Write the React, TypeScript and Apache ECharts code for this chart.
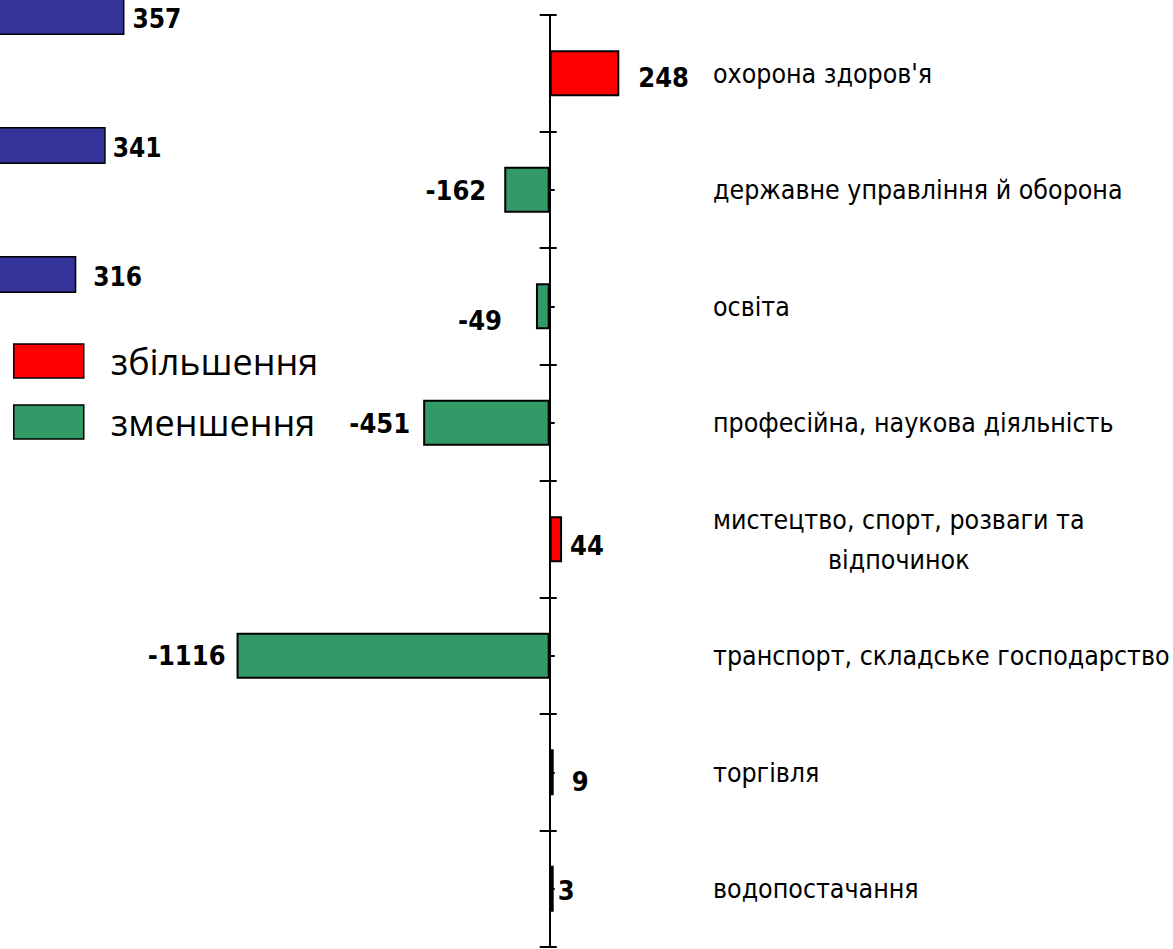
import React, { useEffect, useRef } from "react";
import * as echarts from "echarts";

// ---- data ----
const categories = [
  "охорона здоров'я",
  "державне управління й оборона",
  "освіта",
  "професійна, наукова діяльність",
  "мистецтво, спорт, розваги та\nвідпочинок",
  "транспорт, складське господарство",
  "торгівля",
  "водопостачання",
];
const changeValues = [248, -162, -49, -451, 44, -1116, 9, 3];
const seriesNames = ["збільшення", "зменшення"];

// partially visible neighbouring panel (its category names are cropped away)
const leftCategories = ["—", "— ", "—  "];
const leftValues = [357, 341, 316];

// ---- styling ----
const NARROW = "'Liberation Sans Narrow', 'Arial Narrow', 'DejaVu Sans Condensed', sans-serif";
const LEGEND_FONT = "'Open Sans', 'Noto Sans', sans-serif";
const CAT_SIZE = 26.5;
const VAL_SIZE = 27;

const rightLabelTweaks = [
  { distance: 19, dy: 4 },
  { distance: 18, dy: 1 },
  { distance: 34, dy: 14 },
  { distance: 13, dy: 1 },
  { distance: 8, dy: 6 },
  { distance: 11, dy: 0 },
  { distance: 18, dy: 9 },
  { distance: 4, dy: 2 },
];
const leftLabelTweaks = [
  { distance: 8, dy: 2 },
  { distance: 7, dy: 2 },
  { distance: 17, dy: 2 },
];

function measure(text: string, font: string): number {
  const c = document.createElement("canvas");
  const ctx = c.getContext("2d");
  if (!ctx) return 0;
  ctx.font = font;
  return ctx.measureText(text).width;
}

export default function App() {
  const ref = useRef<HTMLDivElement>(null);

  useEffect(() => {
    document.body.style.margin = "0";
    if (!ref.current) return;
    const chart = echarts.init(ref.current, undefined, { renderer: "svg" });

    const valueLabel = {
      show: true,
      color: "#000",
      fontFamily: NARROW,
      fontWeight: "bold" as const,
      fontSize: VAL_SIZE,
      formatter: "{c}",
    };

    const mkData = (keep: (v: number) => boolean) =>
      changeValues.map((v, i) =>
        keep(v)
          ? {
              value: v,
              label: {
                position: v >= 0 ? "right" : "left",
                distance: rightLabelTweaks[i].distance,
                offset: [0, rightLabelTweaks[i].dy],
              },
            }
          : "-"
      );

    const catFont = `${CAT_SIZE}px ${NARROW}`;
    const labelAxisData = categories.map((c) => {
      if (c.indexOf("\n") < 0) return c;
      const first = c.split("\n")[0];
      const w = measure(first, catFont);
      return { value: c, textStyle: { align: "center", padding: [0, 0, 0, w] } };
    });

    const cat0 = {
      type: "category",
      gridIndex: 0,
      inverse: true,
      data: categories,
      position: "left",
      axisLabel: { show: false },
      splitLine: { show: false },
    };

    chart.setOption({
      animation: false,
      backgroundColor: "#fff",
      legend: {
        data: seriesNames,
        orient: "vertical",
        left: 13,
        top: 343,
        padding: 0,
        itemWidth: 70,
        itemHeight: 34,
        itemGap: 25,
        icon: "rect",
        itemStyle: { borderColor: "#000", borderWidth: 1.5 },
        textStyle: {
          fontFamily: LEGEND_FONT,
          fontSize: 36,
          color: "#000",
          padding: [0, 0, 0, 22],
        },
      },
      grid: [
        { left: 213, top: 15, width: 477, height: 932, outerBoundsMode: "none", containLabel: false },
        { left: -295, top: -48, width: 470, height: 387, outerBoundsMode: "none", containLabel: false },
      ],
      xAxis: [
        { type: "value", gridIndex: 0, min: -1200, max: 500, show: false },
        { type: "value", gridIndex: 1, min: 0, max: 400, show: false },
      ],
      yAxis: [
        {
          ...cat0,
          axisLine: { show: true, onZero: true, lineStyle: { color: "#000", width: 2 } },
          axisTick: { show: true, length: 10, lineStyle: { color: "#000", width: 2 } },
        },
        {
          ...cat0,
          axisLine: { show: false, onZero: true, onZeroAxisIndex: 0 },
          axisTick: { show: true, inside: true, length: 7, lineStyle: { color: "#000", width: 2 } },
        },
        {
          ...cat0,
          axisLine: { show: false, onZero: true, onZeroAxisIndex: 0 },
          axisTick: {
            show: true,
            inside: true,
            alignWithLabel: true,
            length: 5,
            lineStyle: { color: "#000", width: 2 },
          },
        },
        {
          type: "category",
          gridIndex: 0,
          inverse: true,
          position: "right",
          data: labelAxisData,
          axisLine: { show: false, onZero: false },
          axisTick: { show: false },
          splitLine: { show: false },
          axisLabel: {
            show: true,
            margin: 23,
            align: "left",
            color: "#000",
            fontFamily: NARROW,
            fontSize: CAT_SIZE,
            lineHeight: 40,
          },
        },
        {
          type: "category",
          gridIndex: 1,
          inverse: true,
          data: leftCategories,
          show: false,
        },
      ],
      series: [
        {
          name: seriesNames[0],
          type: "bar",
          xAxisIndex: 0,
          yAxisIndex: 0,
          barWidth: 46,
          barGap: "-100%",
          barMinHeight: 4,
          itemStyle: { color: "#FF0000", borderColor: "#000", borderWidth: 2 },
          label: valueLabel,
          data: mkData((v) => v >= 0),
        },
        {
          name: seriesNames[1],
          type: "bar",
          xAxisIndex: 0,
          yAxisIndex: 0,
          barWidth: 46,
          barGap: "-100%",
          itemStyle: { color: "#339966", borderColor: "#000", borderWidth: 2 },
          label: valueLabel,
          data: mkData((v) => v < 0),
        },
        {
          name: "left",
          type: "bar",
          xAxisIndex: 1,
          yAxisIndex: 4,
          barWidth: 37,
          itemStyle: { color: "#333399", borderColor: "#000", borderWidth: 1.5 },
          label: { ...valueLabel, fontSize: 26 },
          data: leftValues.map((v, i) => ({
            value: v,
            label: {
              position: "right",
              distance: leftLabelTweaks[i].distance,
              offset: [0, leftLabelTweaks[i].dy],
            },
          })),
        },
      ],
    });

    return () => chart.dispose();
  }, []);

  return <div ref={ref} style={{ width: 1173, height: 949 }} />;
}
